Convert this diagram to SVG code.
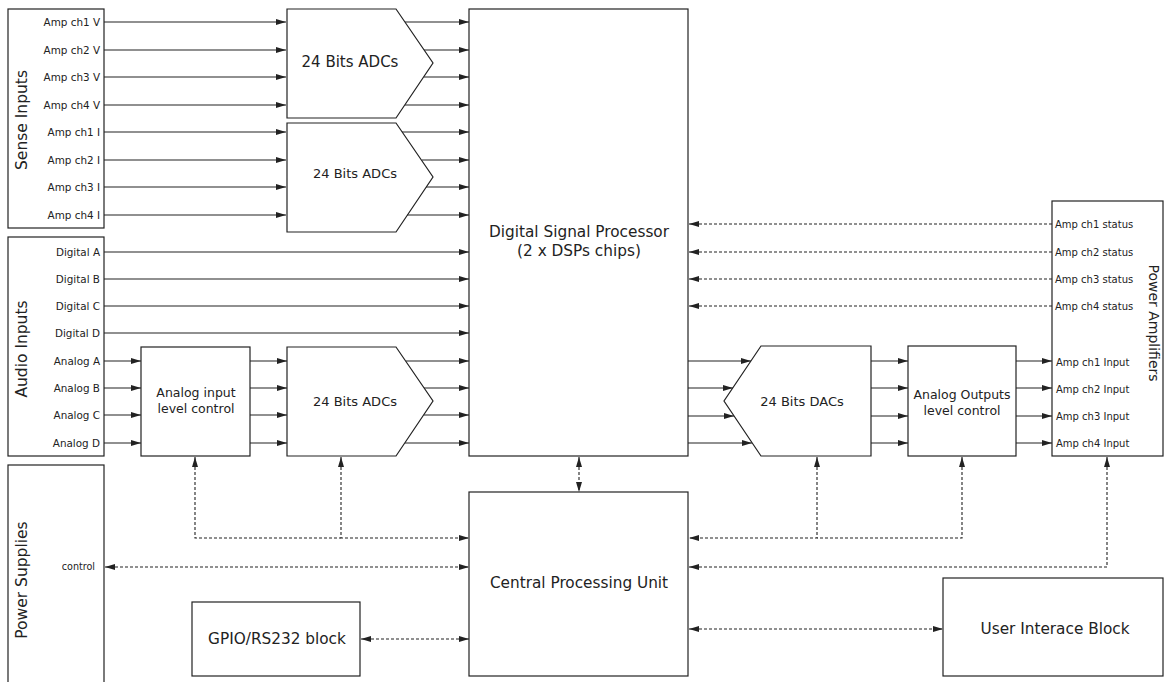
<svg xmlns="http://www.w3.org/2000/svg" width="1170" height="682" viewBox="0 0 1170 682">
<style>
.box{fill:#fff;stroke:#222;stroke-width:1.2}
.ln{fill:none;stroke:#222;stroke-width:1.2}
.ds{fill:none;stroke:#222;stroke-width:1.1;stroke-dasharray:3,2}
text{font-family:"DejaVu Sans","Liberation Sans",sans-serif;fill:#222}
.lb{font-size:10.4px;text-anchor:end}
.lbs{font-size:10px;text-anchor:start}
.t12{font-size:12.5px;text-anchor:middle}
.t13{font-size:13px;text-anchor:middle}
.t14{font-size:15.3px;text-anchor:middle}
.tt{font-size:15.5px;text-anchor:middle}
</style>
<defs>
<marker id="a" viewBox="0 0 10 6" refX="10" refY="3" markerWidth="10" markerHeight="6" markerUnits="userSpaceOnUse" orient="auto-start-reverse"><path d="M0,0 L10,3 L0,6 z" fill="#222"/></marker>
</defs>

<g id="sense-inputs">
<rect class="box" x="8" y="9" width="96" height="219"/>
<text class="tt" transform="translate(27,120) rotate(-90)">Sense Inputs</text>
<text class="lb" x="100" y="26">Amp ch1 V</text>
<text class="lb" x="100" y="54">Amp ch2 V</text>
<text class="lb" x="100" y="81">Amp ch3 V</text>
<text class="lb" x="100" y="109">Amp ch4 V</text>
<text class="lb" x="100" y="136">Amp ch1 I</text>
<text class="lb" x="100" y="164">Amp ch2 I</text>
<text class="lb" x="100" y="191">Amp ch3 I</text>
<text class="lb" x="100" y="219">Amp ch4 I</text>
</g>

<g id="audio-inputs">
<rect class="box" x="8" y="237" width="96" height="219"/>
<text class="tt" transform="translate(27,349) rotate(-90)">Audio Inputs</text>
<text class="lb" x="100" y="256">Digital A</text>
<text class="lb" x="100" y="283">Digital B</text>
<text class="lb" x="100" y="310">Digital C</text>
<text class="lb" x="100" y="337">Digital D</text>
<text class="lb" x="100" y="365">Analog A</text>
<text class="lb" x="100" y="392">Analog B</text>
<text class="lb" x="100" y="419">Analog C</text>
<text class="lb" x="100" y="447">Analog D</text>
</g>

<g id="power-supplies">
<rect class="box" x="8" y="465" width="96" height="230"/>
<text class="tt" transform="translate(27,580) rotate(-90)">Power Supplies</text>
<text class="lb" x="95" y="570" style="font-size:9.6px">control</text>
</g>

<g id="adc1">
<path class="box" d="M287,9 H396 L433,63 L396,118 H287 Z"/>
<text class="t14" x="350" y="67" style="font-size:15px">24 Bits ADCs</text>
</g>
<g id="adc2">
<path class="box" d="M287,123 H396 L433,177 L396,232 H287 Z"/>
<text class="t13" x="355" y="178">24 Bits ADCs</text>
</g>
<g id="analog-input-level">
<rect class="box" x="141" y="347" width="109" height="109"/>
<text class="t12" x="196" y="397">Analog input</text>
<text class="t12" x="196" y="413">level control</text>
</g>
<g id="adc3">
<path class="box" d="M287,347 H396 L433,401 L396,456 H287 Z"/>
<text class="t13" x="355" y="406">24 Bits ADCs</text>
</g>

<g id="dsp">
<rect class="box" x="469" y="9" width="219" height="447"/>
<text class="t14" x="579" y="237">Digital Signal Processor</text>
<text class="t14" x="579" y="256">(2 x DSPs chips)</text>
</g>

<g id="dac">
<path class="box" d="M761,346 H871 V456 H761 L724,401 Z"/>
<text class="t13" x="802" y="406">24 Bits DACs</text>
</g>
<g id="analog-outputs-level">
<rect class="box" x="908" y="346" width="108" height="110"/>
<text class="t12" x="962" y="399">Analog Outputs</text>
<text class="t12" x="962" y="415">level control</text>
</g>

<g id="power-amplifiers">
<rect class="box" x="1052" y="201" width="111" height="255"/>
<text class="t14" transform="translate(1149,323) rotate(90)" style="font-size:14px">Power Amplifiers</text>
<text class="lbs" x="1055" y="228">Amp ch1 status</text>
<text class="lbs" x="1055" y="256">Amp ch2 status</text>
<text class="lbs" x="1055" y="283">Amp ch3 status</text>
<text class="lbs" x="1055" y="310">Amp ch4 status</text>
<text class="lbs" x="1056" y="366">Amp ch1 Input</text>
<text class="lbs" x="1056" y="393">Amp ch2 Input</text>
<text class="lbs" x="1056" y="420">Amp ch3 Input</text>
<text class="lbs" x="1056" y="447">Amp ch4 Input</text>
</g>

<g id="cpu">
<rect class="box" x="469" y="492" width="219" height="184"/>
<text class="t14" x="579" y="588">Central Processing Unit</text>
</g>

<g id="gpio">
<rect class="box" x="192" y="602" width="168" height="74"/>
<text class="t14" x="277" y="644">GPIO/RS232 block</text>
</g>

<g id="user-interface">
<rect class="box" x="943" y="578" width="220" height="98"/>
<text class="t14" x="1055" y="634">User Interace Block</text>
</g>

<g id="connectors">
<path class="ln" marker-end="url(#a)" d="M104,22 H286"/>
<path class="ln" marker-end="url(#a)" d="M104,50 H286"/>
<path class="ln" marker-end="url(#a)" d="M104,77 H286"/>
<path class="ln" marker-end="url(#a)" d="M104,105 H286"/>
<path class="ln" marker-end="url(#a)" d="M104,132 H286"/>
<path class="ln" marker-end="url(#a)" d="M104,160 H286"/>
<path class="ln" marker-end="url(#a)" d="M104,187 H286"/>
<path class="ln" marker-end="url(#a)" d="M104,215 H286"/>
<path class="ln" marker-end="url(#a)" d="M405,22 H469"/>
<path class="ln" marker-end="url(#a)" d="M424,50 H469"/>
<path class="ln" marker-end="url(#a)" d="M424,77 H469"/>
<path class="ln" marker-end="url(#a)" d="M405,105 H469"/>
<path class="ln" marker-end="url(#a)" d="M402,132 H469"/>
<path class="ln" marker-end="url(#a)" d="M422,160 H469"/>
<path class="ln" marker-end="url(#a)" d="M426,187 H469"/>
<path class="ln" marker-end="url(#a)" d="M407,215 H469"/>
<path class="ln" marker-end="url(#a)" d="M104,252 H469"/>
<path class="ln" marker-end="url(#a)" d="M104,279 H469"/>
<path class="ln" marker-end="url(#a)" d="M104,306 H469"/>
<path class="ln" marker-end="url(#a)" d="M104,333 H469"/>
<path class="ln" marker-end="url(#a)" d="M104,361 H141"/>
<path class="ln" marker-end="url(#a)" d="M104,388 H141"/>
<path class="ln" marker-end="url(#a)" d="M104,415 H141"/>
<path class="ln" marker-end="url(#a)" d="M104,443 H141"/>
<path class="ln" marker-end="url(#a)" d="M250,361 H287"/>
<path class="ln" marker-end="url(#a)" d="M250,388 H287"/>
<path class="ln" marker-end="url(#a)" d="M250,415 H287"/>
<path class="ln" marker-end="url(#a)" d="M250,443 H287"/>
<path class="ln" marker-end="url(#a)" d="M406,361 H469"/>
<path class="ln" marker-end="url(#a)" d="M424,388 H469"/>
<path class="ln" marker-end="url(#a)" d="M424,415 H469"/>
<path class="ln" marker-end="url(#a)" d="M405,443 H469"/>
<path class="ln" marker-end="url(#a)" d="M688,361 H751"/>
<path class="ln" marker-end="url(#a)" d="M688,388 H733"/>
<path class="ln" marker-end="url(#a)" d="M688,416 H734"/>
<path class="ln" marker-end="url(#a)" d="M688,443 H752"/>
<path class="ln" marker-end="url(#a)" d="M871,361 H908"/>
<path class="ln" marker-end="url(#a)" d="M871,388 H908"/>
<path class="ln" marker-end="url(#a)" d="M871,416 H908"/>
<path class="ln" marker-end="url(#a)" d="M871,443 H908"/>
<path class="ln" marker-end="url(#a)" d="M1016,361 H1052"/>
<path class="ln" marker-end="url(#a)" d="M1016,388 H1052"/>
<path class="ln" marker-end="url(#a)" d="M1016,416 H1052"/>
<path class="ln" marker-end="url(#a)" d="M1016,443 H1052"/>
<path class="ds" marker-end="url(#a)" d="M1052,224 H689"/>
<path class="ds" marker-end="url(#a)" d="M1052,252 H689"/>
<path class="ds" marker-end="url(#a)" d="M1052,279 H689"/>
<path class="ds" marker-end="url(#a)" d="M1052,306 H689"/>
<path class="ds" marker-start="url(#a)" d="M195,457 V538 H341"/>
<path class="ds" marker-start="url(#a)" marker-end="url(#a)" d="M341,457 V538 H469"/>
<path class="ds" marker-start="url(#a)" marker-end="url(#a)" d="M105,567 H469"/>
<path class="ds" marker-start="url(#a)" marker-end="url(#a)" d="M361,639 H469"/>
<path class="ds" marker-start="url(#a)" marker-end="url(#a)" d="M579,457 V492"/>
<path class="ds" marker-start="url(#a)" d="M962,457 V538 H817"/>
<path class="ds" marker-start="url(#a)" marker-end="url(#a)" d="M817,457 V538 H689"/>
<path class="ds" marker-start="url(#a)" marker-end="url(#a)" d="M1107,457 V567 H689"/>
<path class="ds" marker-start="url(#a)" marker-end="url(#a)" d="M689,629 H943"/>
</g>
</svg>
